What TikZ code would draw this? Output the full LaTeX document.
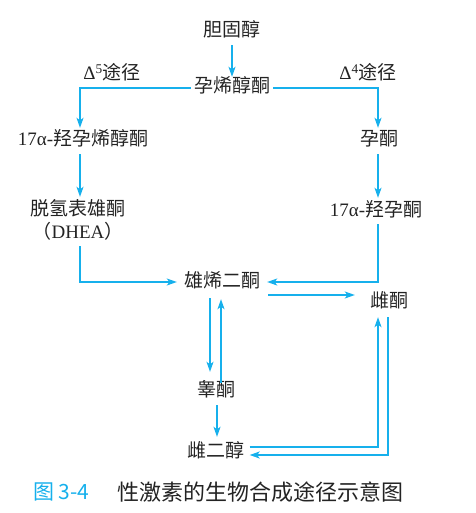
\documentclass[tikz,border=0pt]{standalone}
\usepackage{fontspec}
\setmainfont{Noto Sans CJK SC}
\newfontfamily\ser{Liberation Serif}
\usetikzlibrary{arrows.meta,calc}
\definecolor{flow}{RGB}{22,176,236}
\definecolor{ink}{RGB}{35,35,35}
\begin{document}
\begin{tikzpicture}[x=1pt,y=-1pt,
  lbl/.style={inner sep=0pt,text height=14pt,text depth=4pt,text=ink,font=\fontsize{19}{23}\selectfont},
  arr/.style={draw=flow,line width=1.5pt,-{Stealth[length=10pt,width=7pt,inset=2.5pt]}},
  ln/.style={draw=flow,line width=1.5pt}]
\useasboundingbox (0,0) rectangle (475,513);

% compounds
\node[lbl] (chol) at (232,32) {胆固醇};
\node[lbl] (preg) at (232,88) {孕烯醇酮};
\node[lbl] (d5) at (112,75) {{\ser Δ\textsuperscript{5}}途径};
\node[lbl] (d4) at (368,75) {{\ser Δ\textsuperscript{4}}途径};
\node[lbl] (ohpreg) at (83,141) {{\ser 17α-}羟孕烯醇酮};
\node[lbl] (dhea) at (78,210) {脱氢表雄酮};
\node[lbl] (dheab) at (78,233) {（{\ser DHEA}）};
\node[lbl] (prog) at (379,141) {孕酮};
\node[lbl] (ohprog) at (376,211) {{\ser 17α-}羟孕酮};
\node[lbl] (andro) at (222,282) {雄烯二酮};
\node[lbl] (estrone) at (389,302) {雌酮};
\node[lbl] (testo) at (216,391) {睾酮};
\node[lbl] (estradiol) at (216,452) {雌二醇};

% column positions of the two side pathways
\coordinate (colL) at (80,0);
\coordinate (colR) at (378,0);

% main chain
\draw[arr] ($(chol.south)+(0,4)$) -- ($(preg.north)+(0,-2)$);
% Delta-5 pathway
\draw[arr] ($(preg.west)+(-3,0)$) -| ($(ohpreg.north -| colL)+(0,-4)$);
\draw[arr] ($(ohpreg.south -| colL)+(0,4)$) -- ($(dhea.north -| colL)+(0,-4)$);
\draw[arr] ($(dheab.south -| colL)+(0,4)$) |- ($(andro.west)+(-7,0)$);
% Delta-4 pathway
\draw[arr] ($(preg.east)+(3,0)$) -| ($(prog.north -| colR)+(0,-4)$);
\draw[arr] ($(prog.south -| colR)+(0,4)$) -- ($(ohprog.north -| colR)+(0,-4)$);
\draw[arr] ($(ohprog.south -| colR)+(0,4)$) |- ($(andro.east)+(7,0)$);
% androstenedione to estrone
\draw[arr] ($(andro.east)+(8,13)$) -- ($(estrone.west |- andro.east)+(-15,13)$);
% androstenedione <-> testosterone
\draw[arr] ($(testo.north |- andro.south)+(-6,7)$) -- ($(testo.north)+(-6,-10)$);
\draw[arr] ($(testo.north)+(5,1)$) -- ($(testo.north |- andro.south)+(5,8)$);
% testosterone to estradiol
\draw[arr] ($(testo.south)+(1,5)$) -- ($(estradiol.north)+(1,-6)$);
% estradiol <-> estrone
\draw[arr] ($(estradiol.east)+(5,-5)$) -| ($(estrone.south)+(-11,6)$);
\draw[arr] ($(estrone.south)+(-1,6)$) |- ($(estradiol.east)+(5,3)$);

% caption
\node[anchor=west,inner sep=0pt,text=flow,font=\fontsize{21}{24}\selectfont] (capnum) at (33,492) {图 3-4};
\node[anchor=west,inner sep=0pt,text=ink,font=\fontsize{22}{24}\selectfont] (captxt) at (117,492) {性激素的生物合成途径示意图};
\end{tikzpicture}
\end{document}
